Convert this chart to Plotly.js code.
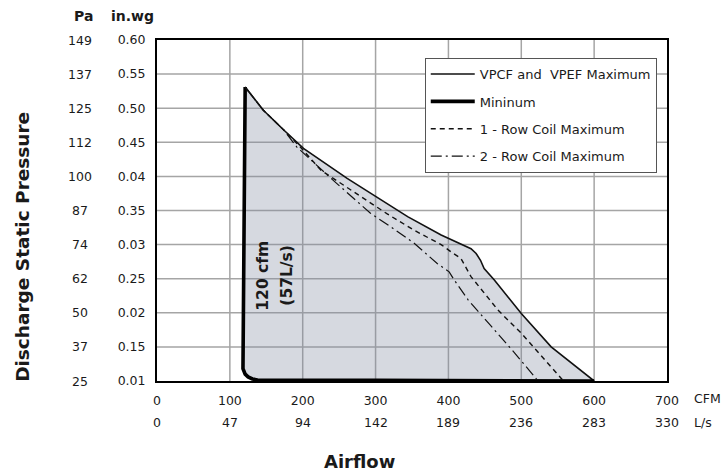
<!DOCTYPE html>
<html>
<head>
<meta charset="utf-8">
<script src="https://cdn.plot.ly/plotly-3.0.1.min.js"></script>
<style>
  html, body { margin: 0; padding: 0; background: #fff; }
  #chart { width: 721px; height: 474px; }
</style>
</head>
<body>
<div id="chart"></div>
<script>
// Axis ticks: airflow in CFM with L/s equivalents, pressure in in.wg with Pa equivalents
const cfmTicks = [0, 100, 200, 300, 400, 500, 600, 700];
const lsText = ['0', '47', '94', '142', '189', '236', '283', '330'];
const inwgVals = [0.10, 0.15, 0.20, 0.25, 0.30, 0.35, 0.40, 0.45, 0.50, 0.55, 0.60];
const inwgText = ['0.01', '0.15', '0.02', '0.25', '0.03', '0.35', '0.04', '0.45', '0.50', '0.55', '0.60'];
const paText = ['25', '37', '50', '62', '74', '87', '100', '112', '125', '137', '149'];

// VPCF and VPEF maximum curve (CFM, in.wg)
const maxX = [121, 146, 174, 201, 261, 303, 344, 390, 422, 431, 438, 444, 449, 463, 500, 541, 600];
const maxY = [0.531, 0.497, 0.468, 0.441, 0.397, 0.368, 0.341, 0.314, 0.299, 0.294, 0.287, 0.277, 0.265, 0.248, 0.199, 0.150, 0.100];

// Minimum curve
const minX = [121, 119, 117.5, 118, 121, 125, 131, 138, 300, 600];
const minY = [0.531, 0.277, 0.131, 0.118, 0.110, 0.106, 0.103, 0.1015, 0.101, 0.100];

// 1 - Row coil maximum
const oneX = [121, 146, 174, 195, 225, 270, 316, 353, 390, 404, 417, 431, 468, 500, 532, 558];
const oneY = [0.531, 0.497, 0.468, 0.445, 0.409, 0.377, 0.345, 0.321, 0.300, 0.289, 0.280, 0.253, 0.204, 0.170, 0.131, 0.100];

// 2 - Row coil maximum
const twoX = [121, 146, 174, 192, 240, 293, 321, 353, 385, 401, 408, 427, 459, 491, 523];
const twoY = [0.531, 0.497, 0.468, 0.443, 0.396, 0.346, 0.326, 0.302, 0.272, 0.260, 0.248, 0.219, 0.180, 0.141, 0.100];

const FONT = 'DejaVu Sans, Verdana, sans-serif';
const INK = '#1a1a1a';
const GRID = '#a5a5a5';

// Shaded operating range: maximum curve out, minimum curve back
const fillX = maxX.concat(minX.slice().reverse());
const fillY = maxY.concat(minY.slice().reverse());

const traces = [
  {
    x: fillX, y: fillY, mode: 'lines', fill: 'toself',
    fillcolor: 'rgba(130,140,160,0.33)', line: { width: 0 },
    hoverinfo: 'skip', showlegend: false
  },
  {
    x: maxX, y: maxY, mode: 'lines', name: 'VPCF and  VPEF Maximum', legendgroup: 'a',
    line: { color: '#111', width: 1.6 }
  },
  {
    x: minX, y: minY, mode: 'lines', name: 'Mininum', legendgroup: 'b',
    line: { color: '#000', width: 3.6 }
  },
  {
    x: oneX, y: oneY, mode: 'lines', name: '1 - Row Coil Maximum', legendgroup: 'c',
    line: { color: '#111', width: 1.4, dash: '5px,4px' }
  },
  {
    x: twoX, y: twoY, mode: 'lines', name: '2 - Row Coil Maximum', legendgroup: 'd',
    line: { color: '#111', width: 1.2, dash: '11px,4px,2px,4px' }
  }
];

// Grid lines at each tick, drawn beneath the curves
const shapes = [];
cfmTicks.slice(1, -1).forEach(v => {
  shapes.push({ type: 'line', layer: 'below', xref: 'x', yref: 'paper',
    x0: v, x1: v, y0: 0, y1: 1, line: { color: GRID, width: 1.5 } });
});
inwgVals.slice(1, -1).forEach(v => {
  shapes.push({ type: 'line', layer: 'below', xref: 'paper', yref: 'y',
    x0: 0, x1: 1, y0: v, y1: v, line: { color: GRID, width: 1.5 } });
});

const annotations = [];
// Pa column, placed on the pressure scale
inwgVals.forEach((v, i) => {
  annotations.push({
    xref: 'paper', yref: 'y', x: -0.151, y: v, text: paText[i],
    showarrow: false, xanchor: 'center', yanchor: 'middle',
    font: { family: FONT, size: 12.5, color: INK }
  });
});
// L/s row, placed on the airflow scale
cfmTicks.forEach((v, i) => {
  annotations.push({
    xref: 'x', yref: 'paper', x: v, y: -0.123, text: lsText[i],
    showarrow: false, xanchor: 'center', yanchor: 'middle',
    font: { family: FONT, size: 12.5, color: INK }
  });
});
// Unit headers and axis titles
annotations.push(
  { xref: 'paper', yref: 'paper', x: -0.145, y: 1.07, text: '<b>Pa</b>', showarrow: false,
    xanchor: 'center', yanchor: 'middle', font: { family: FONT, size: 14, color: INK } },
  { xref: 'paper', yref: 'paper', x: -0.049, y: 1.07, text: '<b>in.wg</b>', showarrow: false,
    xanchor: 'center', yanchor: 'middle', font: { family: FONT, size: 14, color: INK } },
  { xref: 'paper', yref: 'paper', x: 1.049, y: -0.05, text: 'CFM', showarrow: false,
    xanchor: 'left', yanchor: 'middle', font: { family: FONT, size: 12.5, color: INK } },
  { xref: 'paper', yref: 'paper', x: 1.049, y: -0.123, text: 'L/s', showarrow: false,
    xanchor: 'left', yanchor: 'middle', font: { family: FONT, size: 12.5, color: INK } },
  { xref: 'paper', yref: 'paper', x: -0.263, y: 0.393, text: '<b>Discharge Static Pressure</b>',
    textangle: -90, showarrow: false, xanchor: 'center', yanchor: 'middle',
    font: { family: FONT, size: 18.5, color: INK } },
  { xref: 'paper', yref: 'paper', x: 0.398, y: -0.237, text: '<b>Airflow</b>', showarrow: false,
    xanchor: 'center', yanchor: 'middle', font: { family: FONT, size: 18, color: INK } },
  // Minimum airflow note inside the shaded region
  { xref: 'x', yref: 'y', x: 146, y: 0.255, text: '<b>120 cfm</b>', textangle: -90, showarrow: false,
    xanchor: 'center', yanchor: 'middle', font: { family: FONT, size: 15.5, color: INK } },
  { xref: 'x', yref: 'y', x: 179, y: 0.255, text: '<b>(57L/s)</b>', textangle: -90, showarrow: false,
    xanchor: 'center', yanchor: 'middle', font: { family: FONT, size: 15.5, color: INK } }
);

const layout = {
  width: 721, height: 474,
  margin: { l: 157, r: 54, t: 40, b: 93, pad: 0 },
  paper_bgcolor: '#fff', plot_bgcolor: '#fff',
  font: { family: FONT, size: 12.5, color: INK },
  showlegend: true,
  legend: {
    x: 0.525, y: 0.947, xanchor: 'left', yanchor: 'top',
    bgcolor: '#fff', bordercolor: '#555', borderwidth: 1,
    font: { family: FONT, size: 13, color: INK },
    itemwidth: 44, tracegroupgap: 7.5
  },
  xaxis: {
    range: [0, 700], tickvals: cfmTicks, ticktext: cfmTicks.map(String),
    showgrid: false,
    showline: true, linecolor: '#000', linewidth: 2, mirror: true,
    zeroline: false, ticks: '', ticklabelstandoff: 7,
    tickfont: { family: FONT, size: 12.5, color: INK }, fixedrange: true
  },
  yaxis: {
    range: [0.1, 0.6], tickvals: inwgVals, ticktext: inwgText,
    showgrid: false,
    showline: true, linecolor: '#000', linewidth: 2, mirror: true,
    zeroline: false, ticks: 'outside', ticklen: 7, tickcolor: 'rgba(0,0,0,0)',
    tickfont: { family: FONT, size: 12.5, color: INK }, fixedrange: true
  },
  shapes: shapes,
  annotations: annotations
};

Plotly.newPlot('chart', traces, layout, { staticPlot: true, displayModeBar: false });
</script>
</body>
</html>
